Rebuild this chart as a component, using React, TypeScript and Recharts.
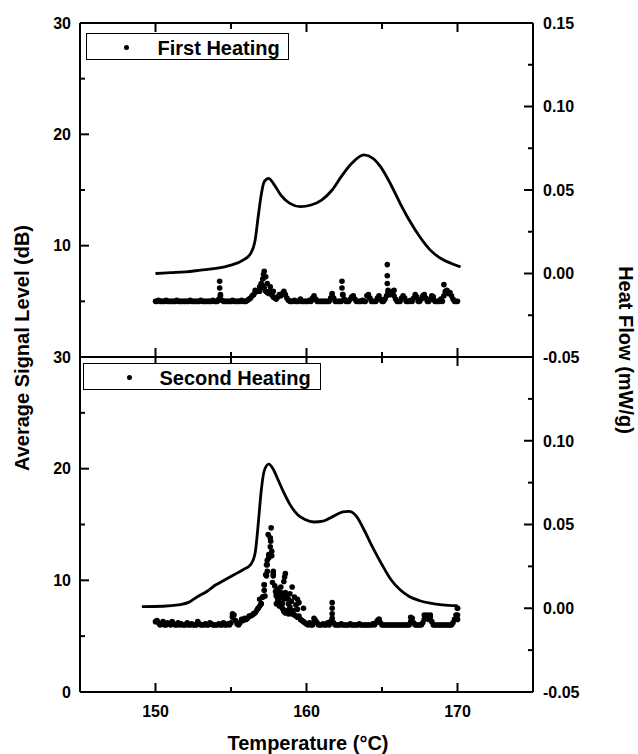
import React from 'react';
import { ComposedChart, Scatter, Line, XAxis, YAxis, Legend } from 'recharts';

const FONT = '"Liberation Sans", Arial, Helvetica, sans-serif';

// Signal temperature grid (°C): first value and spacing
const signalGridStart = 150;
const signalGridStep = 0.1;

// First heating: average signal level (dB) on the temperature grid 150.0 ... 170.0
const firstSignalBase = [
  5.0, 5.0, 5.1, 5.0, 5.0, 5.0, 5.0, 5.1, 5.0, 5.0, 5.0, 5.0, 5.0, 5.0, 5.1, 5.0, 5.0, 5.0, 5.0, 5.0,
  5.0, 5.0, 5.0, 5.1, 5.0, 5.0, 5.0, 5.0, 5.0, 5.0, 5.1, 5.0, 5.0, 5.0, 5.0, 5.0, 5.0, 5.0, 5.1, 5.0,
  5.0, 5.0, 5.2, 5.5, 5.1, 5.0, 5.0, 5.0, 5.0, 5.0, 5.0, 5.1, 5.0, 5.0, 5.0, 5.0, 5.0, 5.1, 5.0, 5.0,
  5.0, 5.1, 5.2, 5.3, 5.5, 5.6, 5.8, 5.9, 6.0, 5.9, 6.2, 6.4, 6.2, 5.9, 5.8, 5.7, 5.9, 5.6, 5.4, 5.3,
  5.2, 5.4, 5.6, 5.5, 5.7, 5.8, 5.6, 5.3, 5.1, 5.0, 5.0, 5.0, 5.1, 5.0, 5.0, 5.0, 5.2, 5.0, 5.0, 5.0,
  5.0, 5.0, 5.1, 5.0, 5.3, 5.5, 5.2, 5.0, 5.0, 5.0, 5.0, 5.0, 5.0, 5.0, 5.0, 5.0, 5.3, 5.6, 5.3, 5.0,
  5.0, 5.0, 5.0, 5.0, 5.6, 5.2, 5.0, 5.0, 5.0, 5.2, 5.4, 5.5, 5.2, 5.0, 5.0, 5.0, 5.0, 5.1, 5.0, 5.0,
  5.5, 5.6, 5.3, 5.0, 5.0, 5.0, 5.0, 5.3, 5.5, 5.2, 5.0, 5.0, 5.2, 5.5, 5.8, 5.6, 5.7, 5.9, 5.5, 5.2,
  5.0, 5.0, 5.0, 5.3, 5.5, 5.3, 5.0, 5.0, 5.0, 5.1, 5.0, 5.3, 5.6, 5.4, 5.0, 5.0, 5.2, 5.5, 5.6, 5.3,
  5.0, 5.0, 5.2, 5.5, 5.4, 5.0, 5.0, 5.0, 5.0, 5.2, 5.0, 5.5, 5.8, 6.0, 5.7, 5.8, 5.5, 5.2, 5.0, 5.0,
  5.0,
];

// First heating: additional readings [temperature °C, signal dB]
const firstSignalExtra: [number, number][] = [
  [154.25, 6.8], [154.25, 6.2], [154.3, 5.6], [156.6, 6.0], [156.9, 6.3], [157.0, 6.6],
  [157.1, 7.0], [157.15, 7.4], [157.2, 7.7], [157.3, 7.2], [157.4, 6.6], [157.6, 6.3],
  [157.8, 5.9], [158.5, 5.9], [161.7, 5.7], [162.35, 6.8], [162.35, 6.2], [162.4, 5.6],
  [165.35, 8.3], [165.35, 7.3], [165.35, 6.6], [165.4, 6.0], [165.8, 6.0], [169.1, 6.5], [169.2, 5.9],
];

// Second heating: average signal level (dB) on the temperature grid 150.0 ... 170.0
const secondSignalBase = [
  6.3, 6.4, 6.2, 6.0, 6.1, 6.3, 6.0, 6.0, 6.2, 6.1, 6.0, 6.3, 6.1, 6.0, 6.0, 6.2, 6.0, 6.1, 6.0, 6.0,
  6.0, 6.2, 6.0, 6.0, 6.1, 6.0, 6.0, 6.0, 6.3, 6.1, 6.0, 6.0, 6.0, 6.1, 6.0, 6.0, 6.2, 6.1, 6.0, 6.0,
  6.0, 6.0, 6.1, 6.0, 6.0, 6.2, 6.0, 6.0, 6.1, 6.0, 6.2, 6.8, 6.9, 6.4, 6.1, 6.0, 6.2, 6.5, 6.4, 6.6,
  6.5, 6.6, 6.8, 6.8, 6.9, 7.0, 7.1, 7.3, 7.5, 7.7, 7.9, 8.5, 9.6, 10.5, 11.4, 12.0, 13.0, 12.2, 10.6, 9.5,
  8.6, 8.3, 8.0, 7.8, 7.5, 7.2, 7.1, 7.3, 7.0, 7.2, 7.0, 7.1, 6.9, 6.8, 6.7, 6.8, 6.5, 6.4, 6.3, 6.2,
  6.1, 6.0, 6.2, 6.0, 6.0, 6.3, 6.4, 6.2, 6.0, 6.0, 6.0, 6.1, 6.0, 6.0, 6.2, 6.0, 6.3, 6.6, 6.2, 6.0,
  6.0, 6.0, 6.0, 6.1, 6.0, 6.0, 6.0, 6.0, 6.0, 6.1, 6.0, 6.0, 6.0, 6.0, 6.0, 6.1, 6.0, 6.0, 6.0, 6.0,
  6.0, 6.0, 6.0, 6.0, 6.1, 6.0, 6.2, 6.4, 6.5, 6.2, 6.0, 6.0, 6.0, 6.0, 6.0, 6.0, 6.0, 6.0, 6.0, 6.0,
  6.0, 6.0, 6.0, 6.0, 6.0, 6.0, 6.0, 6.0, 6.0, 6.3, 6.6, 6.2, 6.0, 6.0, 6.0, 6.0, 6.0, 6.2, 6.5, 6.6,
  6.9, 6.5, 6.7, 6.3, 6.0, 6.0, 6.0, 6.0, 6.0, 6.0, 6.0, 6.0, 6.0, 6.0, 6.0, 6.0, 6.0, 6.2, 6.5, 6.9,
  7.5,
];

// Second heating: additional readings [temperature °C, signal dB]
const secondSignalExtra: [number, number][] = [
  [157.66, 14.7], [157.46, 14.1], [157.6, 13.8], [157.63, 13.5], [157.7, 12.6], [157.5, 12.3],
  [157.4, 11.8], [157.35, 11.4], [157.4, 10.8], [157.8, 10.8], [157.35, 10.4], [157.8, 10.4],
  [158.6, 10.6], [158.55, 10.3], [157.2, 9.6], [157.75, 9.8], [158.5, 9.9], [159.05, 9.4],
  [157.95, 9.0], [158.3, 8.9], [158.6, 8.9], [159.2, 8.5], [157.1, 8.5], [158.1, 8.2],
  [158.4, 7.9], [158.8, 7.9], [159.5, 8.0], [157.0, 7.9], [156.8, 7.5], [158.6, 7.1],
  [159.1, 7.3], [159.8, 7.5], [156.5, 7.0], [155.1, 7.0], [155.1, 6.7], [161.7, 8.0],
  [161.7, 7.5], [161.7, 7.0], [160.5, 6.6], [164.8, 6.5], [166.9, 6.7], [167.8, 6.9],
  [168.2, 6.9], [170.0, 7.5], [170.0, 6.9], [170.0, 6.5], [158.0, 8.7], [158.1, 9.2],
  [158.2, 8.5], [158.3, 9.4], [158.4, 8.7], [158.5, 8.3], [158.7, 8.6], [158.8, 8.3],
  [158.9, 8.8], [159.0, 8.1], [159.3, 7.8], [159.4, 7.4], [158.2, 7.7], [158.45, 7.4],
  [158.0, 7.9], [158.9, 7.6], [157.2, 9.1], [157.25, 8.6], [156.9, 8.3], [159.4, 8.3],
];

// Heat flow (mW/g) [temperature °C, heat flow]
const firstHeatFlow: [number, number][] = [
  [150.0, 0.0], [151.0, 0.0005], [152.0, 0.001], [153.0, 0.002], [154.0, 0.003], [155.0, 0.005],
  [155.8, 0.008], [156.3, 0.012], [156.6, 0.02], [156.8, 0.034], [157.0, 0.047], [157.2, 0.055],
  [157.5, 0.057], [157.8, 0.054], [158.3, 0.047], [158.9, 0.042], [159.6, 0.04], [160.3, 0.041],
  [161.0, 0.044], [161.7, 0.05], [162.3, 0.058], [163.0, 0.066], [163.8, 0.071], [164.4, 0.069],
  [164.9, 0.064], [165.6, 0.053], [166.2, 0.042], [166.8, 0.032], [167.5, 0.022], [168.2, 0.014],
  [168.9, 0.009], [169.6, 0.006], [170.2, 0.004],
];

const secondHeatFlow: [number, number][] = [
  [149.1, 0.001], [150.5, 0.0012], [151.5, 0.002], [152.2, 0.0035], [152.8, 0.007], [153.4, 0.01],
  [154.0, 0.014], [154.6, 0.017], [155.2, 0.02], [155.8, 0.023], [156.3, 0.026], [156.6, 0.033],
  [156.8, 0.05], [157.0, 0.07], [157.2, 0.082], [157.5, 0.086], [157.8, 0.083], [158.1, 0.077],
  [158.5, 0.069], [158.9, 0.062], [159.4, 0.056], [159.9, 0.053], [160.5, 0.0515], [161.1, 0.052],
  [161.8, 0.055], [162.4, 0.0575], [162.8, 0.0578], [163.3, 0.055], [163.8, 0.047], [164.4, 0.036],
  [165.0, 0.026], [165.6, 0.017], [166.2, 0.011], [166.8, 0.007], [167.5, 0.0045], [168.2, 0.003],
  [169.0, 0.002], [170.0, 0.0015],
];

const xTicks = [150, 155, 160, 165, 170];
const signalTicks = [0, 5, 10, 15, 20, 25, 30];
const heatTicks = [-0.05, -0.025, 0, 0.025, 0.05, 0.075, 0.1, 0.125, 0.15];

const panels = [
  { label: 'First Heating', base: firstSignalBase, extra: firstSignalExtra, heat: firstHeatFlow },
  { label: 'Second Heating', base: secondSignalBase, extra: secondSignalExtra, heat: secondHeatFlow },
];

const toScatter = (base: number[], extra: [number, number][]) => [
  ...base.map((s, i) => ({ t: Math.round((signalGridStart + i * signalGridStep) * 10) / 10, s })),
  ...extra.map(([t, s]) => ({ t, s })),
];
const toLine = (pts: [number, number][]) => pts.map(([t, h]) => ({ t, h }));

const textProps = { fontFamily: FONT, fontWeight: 'bold' as const, fill: '#000' };

const Dot = (p: any) => <circle cx={p.cx} cy={p.cy} r={2.8} fill="#000" />;

const leftTick = (hide: number[]) => (props: any) => {
  const { x, y, payload } = props;
  const v = payload.value;
  const major = v % 10 === 0;
  return (
    <g>
      <line x1={x} x2={x + (major ? 9 : 5)} y1={y} y2={y} stroke="#000" strokeWidth={2} />
      {major && !hide.includes(v) && (
        <text x={x - 9} y={y} dy="0.36em" textAnchor="end" fontSize={16} {...textProps}>{v}</text>
      )}
    </g>
  );
};

const rightTick = (hide: number[]) => (props: any) => {
  const { x, y, payload } = props;
  const v = payload.value;
  const major = Math.abs(Math.round(v * 1000)) % 50 === 0;
  const hidden = hide.some((h) => Math.abs(h - v) < 1e-9);
  return (
    <g>
      <line x1={x} x2={x - (major ? 9 : 5)} y1={y} y2={y} stroke="#000" strokeWidth={2} />
      {major && !hidden && (
        <text x={x + 10} y={y} dy="0.36em" textAnchor="start" fontSize={16} {...textProps}>{v.toFixed(2)}</text>
      )}
    </g>
  );
};

const bottomTick = (showLabels: boolean) => (props: any) => {
  const { x, y, payload } = props;
  const v = payload.value;
  const major = v % 10 === 0;
  return (
    <g>
      <line x1={x} x2={x} y1={y} y2={y - (major ? 9 : 5)} stroke="#000" strokeWidth={2} />
      {showLabels && major && (
        <text x={x} y={y + 25} textAnchor="middle" fontSize={16} {...textProps}>{v}</text>
      )}
    </g>
  );
};

const topTick = (props: any) => {
  const { x, y, payload } = props;
  const major = payload.value % 10 === 0;
  return <line x1={x} x2={x} y1={y} y2={y + (major ? 9 : 6)} stroke="#000" strokeWidth={2} />;
};

const legendContent = (label: string, width: number, dotLeft: number, textLeft: number) => () => (
  <div
    style={{
      boxSizing: 'border-box',
      width,
      height: 27,
      border: '1.5px solid #000',
      position: 'relative',
      background: '#fff',
      fontFamily: FONT,
    }}
  >
    <span
      style={{
        position: 'absolute',
        left: dotLeft - 2.5,
        top: 11,
        width: 5,
        height: 5,
        borderRadius: '50%',
        background: '#000',
      }}
    />
    <span
      style={{
        position: 'absolute',
        left: textLeft,
        top: 1.5,
        fontSize: 20,
        fontWeight: 'bold',
        lineHeight: '24px',
        whiteSpace: 'nowrap',
        color: '#000',
      }}
    >
      {label}
    </span>
  </div>
);

const axisLine = { stroke: '#000', strokeWidth: 2 };

function Panel({ index }: { index: number }) {
  const p = panels[index];
  const isTop = index === 0;
  const height = isTop ? 380 : 420;
  const bottomH = isTop ? 23 : 62;
  return (
    <ComposedChart width={638} height={height} margin={{ top: 0, right: 0, bottom: 0, left: 0 }}>
      <XAxis
        xAxisId="b"
        type="number"
        dataKey="t"
        domain={[145, 175]}
        ticks={xTicks}
        allowDataOverflow
        height={bottomH}
        tickSize={0}
        tickMargin={0}
        tickLine={false}
        axisLine={axisLine}
        tick={bottomTick(!isTop)}
        interval={0}
      />
      <XAxis
        xAxisId="t"
        orientation="top"
        type="number"
        dataKey="t"
        domain={[145, 175]}
        ticks={xTicks}
        allowDataOverflow
        height={23}
        tickSize={0}
        tickMargin={0}
        tickLine={false}
        axisLine={axisLine}
        tick={topTick}
        interval={0}
      />
      <YAxis
        yAxisId="l"
        orientation="left"
        type="number"
        domain={[0, 30]}
        ticks={signalTicks}
        allowDataOverflow
        width={80}
        tickSize={0}
        tickMargin={0}
        tickLine={false}
        axisLine={axisLine}
        tick={leftTick(isTop ? [0] : [])}
        interval={0}
      />
      <YAxis
        yAxisId="r"
        orientation="right"
        type="number"
        domain={[-0.05, 0.15]}
        ticks={heatTicks}
        allowDataOverflow
        width={105}
        tickSize={0}
        tickMargin={0}
        tickLine={false}
        axisLine={axisLine}
        tick={rightTick(isTop ? [] : [0.15])}
        interval={0}
      />
      <Scatter
        name={p.label}
        xAxisId="b"
        yAxisId="l"
        data={toScatter(p.base, p.extra)}
        dataKey="s"
        fill="#000"
        shape={Dot}
        isAnimationActive={false}
      />
      <Line
        xAxisId="b"
        yAxisId="r"
        data={toLine(p.heat)}
        dataKey="h"
        type="monotone"
        stroke="#000"
        strokeWidth={2.8}
        dot={false}
        activeDot={false}
        isAnimationActive={false}
        legendType="none"
      />
      <Legend
        verticalAlign="middle"
        align="center"
        layout="horizontal"
        wrapperStyle={
          isTop
            ? { left: 86, top: 33, width: 'auto', height: 'auto' }
            : { left: 83, top: 29, width: 'auto', height: 'auto' }
        }
        content={isTop ? legendContent(p.label, 203, 39.5, 70.5) : legendContent(p.label, 238, 45.5, 75.5)}
      />
    </ComposedChart>
  );
}

export default function App() {
  return (
    <div style={{ position: 'absolute', left: 0, top: 0, width: 638, height: 754, background: '#fff', overflow: 'hidden' }}>
      <div style={{ position: 'absolute', left: 0, top: 0 }}>
        <Panel index={0} />
      </div>
      <div style={{ position: 'absolute', left: 0, top: 334 }}>
        <Panel index={1} />
      </div>
      <svg width={638} height={754} style={{ position: 'absolute', left: 0, top: 0, pointerEvents: 'none' }}>
        <text transform="translate(29,348) rotate(-90)" textAnchor="middle" fontSize={20} {...textProps}>
          Average Signal Level (dB)
        </text>
        <text transform="translate(619,350) rotate(90)" textAnchor="middle" fontSize={20} {...textProps}>
          Heat Flow (mW/g)
        </text>
        <text x={308} y={750} textAnchor="middle" fontSize={20} {...textProps}>
          Temperature (°C)
        </text>
      </svg>
    </div>
  );
}
